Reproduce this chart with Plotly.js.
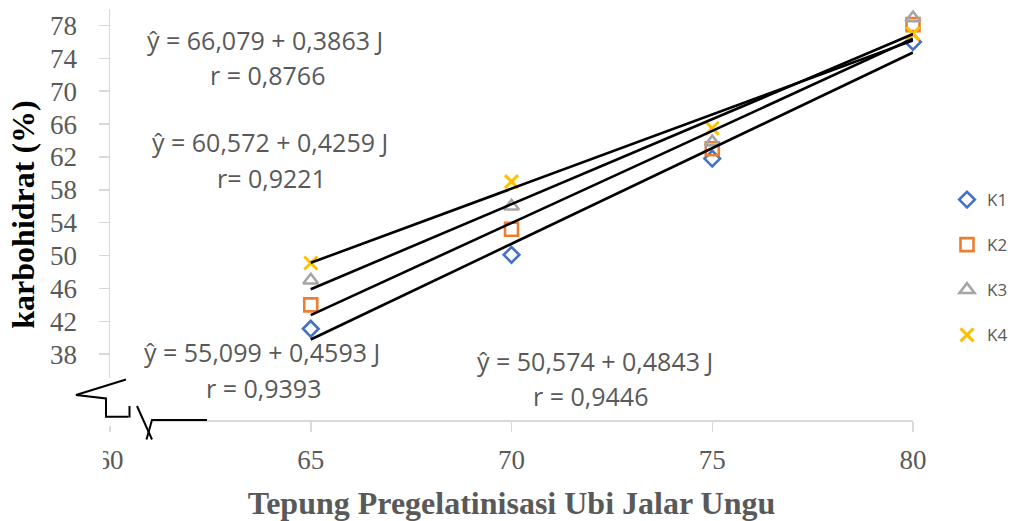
<!DOCTYPE html>
<html>
<head>
<meta charset="utf-8">
<script src="https://cdn.plot.ly/plotly-3.0.1.min.js"></script>
<style>
  html, body { margin: 0; padding: 0; background: #ffffff; }
  #chart { width: 1016px; height: 521px; }
</style>
</head>
<body>
<div id="chart"></div>
<script>
// Flour level (x) and carbohydrate content (%) for each treatment
const levels = [65, 70, 75, 80];
const seriesNames = ["K1", "K2", "K3", "K4"];
const k1 = [41.1, 50.1, 61.8, 76.0];
const k2 = [44.0, 53.2, 63.0, 78.1];
const k3 = [47.0, 56.0, 63.8, 78.9];
const k4 = [49.1, 59.0, 65.5, 77.0];

const xTicks = [60, 65, 70, 75, 80];
const yTicks = [34, 38, 42, 46, 50, 54, 58, 62, 66, 70, 74, 78];

// Regression equations printed beside the lines
const eqLines = [
  "ŷ = 66,079 + 0,3863 J", "r = 0,8766",
  "ŷ = 60,572 + 0,4259 J", "r= 0,9221",
  "ŷ = 55,099 + 0,4593 J", "r = 0,9393",
  "ŷ = 50,574 + 0,4843 J", "r = 0,9446"
];

const seriesValues = [k1, k2, k3, k4];
const colors = ["#4472C4", "#ED7D31", "#A5A5A5", "#FFC000"];
const symbols = ["diamond-open", "square-open", "triangle-up-open", "x-thin-open"];
const sizes = [12, 13, 13, 13];

// Plot area geometry (pixels)
const FW = 1016, FH = 521;
const M = { l: 110, r: 103, t: 9, b: 101, autoexpand: false };
const PW = FW - M.l - M.r, PH = FH - M.t - M.b;
const px = x => (x - M.l) / PW;          // pixel -> paper x
const py = y => (FH - M.b - y) / PH;     // pixel -> paper y

// Least-squares line through each series
function fit(xs, ys) {
  const n = xs.length;
  const mx = xs.reduce((a, b) => a + b, 0) / n;
  const my = ys.reduce((a, b) => a + b, 0) / n;
  let sxy = 0, sxx = 0;
  for (let i = 0; i < n; i++) { sxy += (xs[i] - mx) * (ys[i] - my); sxx += (xs[i] - mx) ** 2; }
  const b = sxy / sxx, a = my - b * mx;
  return xs.map(x => a + b * x);
}

const traces = [];
seriesValues.forEach((vals, i) => {
  traces.push({
    x: levels, y: vals, type: "scatter", mode: "markers", cliponaxis: false,
    name: seriesNames[i], legendgroup: seriesNames[i],
    marker: { symbol: symbols[i], size: sizes[i], color: colors[i],
              line: { color: colors[i], width: i === 3 ? 3 : 2.6 } },
    hoverinfo: "x+y"
  });
});
seriesValues.forEach((vals, i) => {
  const fx = [levels[0], levels[levels.length - 1]];
  const fitted = fit(levels, vals);
  traces.push({
    x: fx, y: [fitted[0], fitted[fitted.length - 1]], type: "scatter", mode: "lines",
    cliponaxis: false,
    line: { color: "#000000", width: 2.6 }, showlegend: false, hoverinfo: "skip"
  });
});

const eqFont = { family: "Open Sans, sans-serif", size: 25, color: "#595959" };
const eqPos = [
  [265, 40], [267, 75],
  [270, 142], [271, 178],
  [262, 352], [263, 388],
  [595, 361], [590, 396]
];
const annotations = eqLines.map((t, i) => ({
  text: t, xref: "paper", yref: "paper",
  x: px(eqPos[i][0]), y: py(eqPos[i][1]),
  xanchor: "center", yanchor: "middle", showarrow: false, font: eqFont
}));

// Axis break mark at the lower-left corner
const pathOf = pts => "M" + pts.map(p => px(p[0]).toFixed(5) + "," + py(p[1]).toFixed(5)).join(" L");
const shapes = [
  { type: "rect", xref: "paper", yref: "paper", layer: "above",
    x0: px(40), x1: px(150), y0: py(426), y1: py(378),
    fillcolor: "#ffffff", line: { width: 0 } },
  { type: "rect", xref: "paper", yref: "paper", layer: "above",
    x0: px(86), x1: px(103), y0: py(478), y1: py(440),
    fillcolor: "#ffffff", line: { width: 0 } },
  { type: "path", xref: "paper", yref: "paper", layer: "above",
    path: pathOf([[126, 379.5], [76, 395], [106, 398.5], [106, 416.7], [128.5, 416.7]]),
    line: { color: "#000000", width: 2 } },
  { type: "path", xref: "paper", yref: "paper", layer: "above",
    path: pathOf([[129.5, 406], [129.5, 417.5]]),
    line: { color: "#000000", width: 2 } },
  { type: "path", xref: "paper", yref: "paper", layer: "above",
    path: pathOf([[137, 406], [152, 439.5]]),
    line: { color: "#000000", width: 2 } },
  { type: "path", xref: "paper", yref: "paper", layer: "above",
    path: pathOf([[146.5, 439.5], [152, 420], [207, 420]]),
    line: { color: "#000000", width: 2 } }
];

const tickFont = { family: "Liberation Serif, Times New Roman, serif", size: 27, color: "#595959" };

const layout = {
  width: FW, height: FH,
  margin: M,
  paper_bgcolor: "#ffffff", plot_bgcolor: "#ffffff",
  showlegend: true,
  legend: {
    x: px(947), y: py(182), xanchor: "left", yanchor: "top",
    traceorder: "grouped", tracegroupgap: 20,
    font: { family: "Open Sans, sans-serif", size: 17, color: "#595959" },
    bgcolor: "rgba(0,0,0,0)"
  },
  xaxis: {
    range: [60, 80], tickvals: xTicks, ticktext: xTicks.map(String),
    showgrid: false, zeroline: false,
    showline: true, linecolor: "#d9d9d9", linewidth: 1.5,
    ticks: "outside", ticklen: 10, tickcolor: "#d9d9d9", tickwidth: 1.5,
    ticklabelstandoff: 5,
    tickfont: tickFont,
    title: { text: "Tepung Pregelatinisasi Ubi Jalar Ungu", standoff: 19,
             font: { family: "Liberation Serif, Times New Roman, serif", size: 32, color: "#595959", weight: "bold" } }
  },
  yaxis: {
    range: [30, 80], tickvals: yTicks, ticktext: yTicks.map(String),
    showgrid: false, zeroline: false,
    showline: true, linecolor: "#d9d9d9", linewidth: 1.5,
    ticks: "outside", ticklen: 10, tickcolor: "#d9d9d9", tickwidth: 1.5,
    ticklabelstandoff: 16,
    tickfont: tickFont,
    title: { text: "karbohidrat (%)", standoff: 6,
             font: { family: "Liberation Serif, Times New Roman, serif", size: 32, color: "#000000", weight: "bold" } }
  },
  annotations: annotations,
  shapes: shapes
};

Plotly.newPlot("chart", traces, layout, { displayModeBar: false, staticPlot: true });
</script>
</body>
</html>
